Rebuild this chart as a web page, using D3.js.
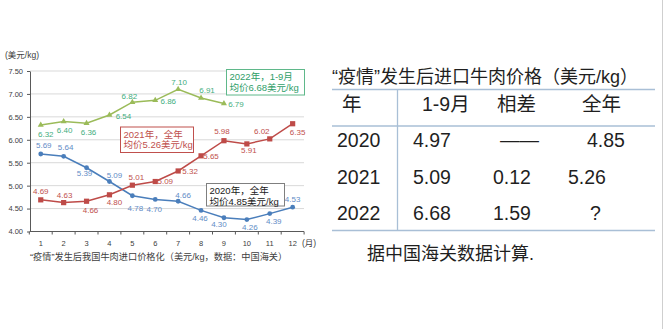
<!DOCTYPE html>
<html>
<head>
<meta charset="utf-8">
<script src="https://cdn.jsdelivr.net/npm/d3@7/dist/d3.min.js"></script>
<style>
  body { margin: 0; background: #fff; }
  svg { display: block; }
  text { font-family: "Liberation Sans", Arial, "Noto Sans CJK SC", sans-serif; }
</style>
</head>
<body>
<svg id="chart" width="663" height="329"></svg>
<script>
// ---- data ----
const months = [1, 2, 3, 4, 5, 6, 7, 8, 9, 10, 11, 12];
const price2020 = [5.69, 5.64, 5.39, 5.09, 4.78, 4.70, 4.66, 4.46, 4.30, 4.26, 4.39, 4.53];
const price2021 = [4.69, 4.63, 4.66, 4.80, 5.01, 5.09, 5.32, 5.65, 5.98, 5.91, 6.02, 6.35];
const price2022 = [6.32, 6.40, 6.36, 6.54, 6.82, 6.86, 7.10, 6.91, 6.79];
const yTicks = [4.0, 4.5, 5.0, 5.5, 6.0, 6.5, 7.0, 7.5];

const tableHeader = ["年", "1-9月", "相差", "全年"];
const tableYears = ["2020", "2021", "2022"];
const avgJanSep = ["4.97", "5.09", "6.68"];
const diffJanSep = ["——", "0.12", "1.59"];
const avgFullYear = ["4.85", "5.26", "?"];

// label offsets (dx, dy) from each point
const off2020 = [[3,-9],[2,-9],[-2,6],[5,-6],[3,13],[-1,10],[5,-6],[-1,8],[-5,7],[3,8],[4,8],[0,-8]];
const off2021 = [[0,-8],[1,-7],[4,9],[5,8],[4,-8],[10,0],[12,1],[10,1],[-2,-9],[2,7],[-8,-7],[5,9]];
const off2022 = [[5,9],[1,9],[2,9],[14,1],[-3,-6],[13,1],[1,-7],[6,-8],[12,1]];

const svg = d3.select("#chart");
svg.append("rect").attr("width", 663).attr("height", 329).attr("fill", "#fff");
svg.append("line").attr("x1", 662.5).attr("x2", 662.5).attr("y1", 0).attr("y2", 329)
  .attr("stroke", "#cfcfcf").attr("stroke-width", 1);

// ---- scales ----
const x = d3.scaleBand().domain(months).range([29.3, 304.1]);
const cx = m => x(m) + x.bandwidth() / 2;
const y = d3.scaleLinear().domain([4, 7.5]).range([231.5, 71]);

// gridlines
svg.append("g").selectAll("line").data(yTicks.filter(t => t > 4)).join("line")
  .attr("x1", 30).attr("x2", 304).attr("y1", d => y(d)).attr("y2", d => y(d))
  .attr("stroke", "#d9d9d9").attr("stroke-width", 1);

// y axis
const yAxis = svg.append("g").attr("transform", "translate(30,0)")
  .call(d3.axisLeft(y).tickValues(yTicks).tickFormat(d3.format(".2f")).tickSize(3).tickSizeOuter(0));
yAxis.select(".domain").attr("stroke", "#595959");
yAxis.selectAll(".tick line").attr("stroke", "#595959");
yAxis.selectAll(".tick text").attr("fill", "#404040").style("font-size", "7.5px").attr("x", -7);

// x axis: line, boundary ticks, centred labels
const xg = svg.append("g");
xg.append("line").attr("x1", 30).attr("x2", 304).attr("y1", 231.5).attr("y2", 231.5)
  .attr("stroke", "#595959");
xg.selectAll(".bt").data(months.concat([13])).join("line").attr("class", "bt")
  .attr("x1", d => d <= 12 ? x(d) : x(12) + x.bandwidth())
  .attr("x2", d => d <= 12 ? x(d) : x(12) + x.bandwidth())
  .attr("y1", 231.5).attr("y2", 234.5).attr("stroke", "#595959");
xg.selectAll(".ml").data(months).join("text").attr("class", "ml")
  .attr("x", d => cx(d)).attr("y", 246).attr("text-anchor", "middle")
  .attr("fill", "#404040").style("font-size", "7.5px").text(d => d);
svg.append("text").attr("x", 302).attr("y", 246).attr("fill", "#404040")
  .style("font-size", "8.5px").text("(月)");

// unit label and caption
svg.append("text").attr("x", 5).attr("y", 58).attr("fill", "#404040")
  .style("font-size", "8.5px").text("(美元/kg)");
svg.append("text").attr("x", 30).attr("y", 260).attr("fill", "#404040")
  .style("font-size", "9.2px").text("“疫情”发生后我国牛肉进口价格化（美元/kg，数据：中国海关）");

// ---- series ----
function drawSeries(values, color, labelColor, marker, offsets) {
  const pts = values.map((v, i) => ({ m: months[i], v, o: offsets[i] }));
  svg.append("path").datum(pts)
    .attr("d", d3.line().x(d => cx(d.m)).y(d => y(d.v)))
    .attr("fill", "none").attr("stroke", color).attr("stroke-width", 1.5);
  const g = svg.append("g");
  if (marker === "circle") {
    g.selectAll("circle").data(pts).join("circle")
      .attr("cx", d => cx(d.m)).attr("cy", d => y(d.v)).attr("r", 2.4).attr("fill", color);
  } else if (marker === "square") {
    g.selectAll("rect").data(pts).join("rect")
      .attr("x", d => cx(d.m) - 2.6).attr("y", d => y(d.v) - 2.6)
      .attr("width", 5.2).attr("height", 5.2).attr("fill", color);
  } else {
    g.selectAll("path").data(pts).join("path")
      .attr("transform", d => `translate(${cx(d.m)},${y(d.v)})`)
      .attr("d", d3.symbol(d3.symbolTriangle, 16)).attr("fill", color);
  }
  svg.append("g").selectAll("text").data(pts).join("text")
    .attr("x", d => cx(d.m) + d.o[0]).attr("y", d => y(d.v) + d.o[1])
    .attr("text-anchor", "middle").attr("dominant-baseline", "central")
    .attr("fill", labelColor).style("font-size", "8px")
    .text(d => d3.format(".2f")(d.v));
}
drawSeries(price2020, "#4a7ebb", "#5f8cc6", "circle", off2020);
drawSeries(price2021, "#be4b48", "#c0504d", "square", off2021);
drawSeries(price2022, "#9bbb59", "#3fae7e", "triangle", off2022);

// ---- annotation boxes ----
function box(x0, y0, w, h, stroke, textColor, lines) {
  svg.append("rect").attr("x", x0).attr("y", y0).attr("width", w).attr("height", h)
    .attr("fill", "#fff").attr("stroke", stroke).attr("stroke-width", 1);
  lines.forEach((t, i) => {
    svg.append("text").attr("x", x0 + 3).attr("y", y0 + 10.5 + i * 10.5)
      .attr("fill", textColor).style("font-size", "9.5px").text(t);
  });
}
box(226.5, 69.5, 78, 25.5, "#5fb88a", "#2f9e68", ["2022年，1-9月", "均价" + avgJanSep[2] + "美元/kg"]);
box(120.5, 127, 73, 25.5, "#c0504d", "#c0504d", ["2021年，全年", "均价" + avgFullYear[1] + "美元/kg"]);
box(206.5, 183.5, 78, 22.5, "#7f7f7f", "#1a1a1a", ["2020年，全年", "均价" + avgFullYear[0] + "美元/kg"]);

// ---- summary table ----
const tc = "#1f1f1f";
svg.append("text").attr("x", 332).attr("y", 83).attr("fill", tc)
  .style("font-size", "18px").text("“疫情”发生后进口牛肉价格（美元/kg）");

const lineColor = "#a9bfd6";
[89.5, 126, 230.5].forEach(ly => {
  svg.append("line").attr("x1", 332).attr("x2", 655).attr("y1", ly).attr("y2", ly)
    .attr("stroke", lineColor).attr("stroke-width", 1.3);
});
svg.append("line").attr("x1", 397.5).attr("x2", 397.5).attr("y1", 89.5).attr("y2", 231)
  .attr("stroke", lineColor).attr("stroke-width", 1.3);

const headerX = [342, 422, 497, 582];
tableHeader.forEach((t, i) => {
  svg.append("text").attr("x", headerX[i]).attr("y", 111).attr("fill", tc)
    .style("font-size", "19.5px").text(t);
});
const rowY = [147, 183.5, 220];
const colYear = 337, colA = 413;
const colDiff = [500, 493, 493];
const colFull = [587, 568, 590];
tableYears.forEach((yr, i) => {
  const g = svg.append("g").attr("fill", tc).style("font-size", "19.5px");
  g.append("text").attr("x", colYear).attr("y", rowY[i]).text(yr);
  g.append("text").attr("x", colA).attr("y", rowY[i]).text(avgJanSep[i]);
  g.append("text").attr("x", colDiff[i]).attr("y", rowY[i]).text(diffJanSep[i]);
  g.append("text").attr("x", colFull[i]).attr("y", rowY[i]).text(avgFullYear[i]);
});
svg.append("text").attr("x", 367).attr("y", 260).attr("fill", tc)
  .style("font-size", "18px").text("据中国海关数据计算.");
</script>
</body>
</html>
